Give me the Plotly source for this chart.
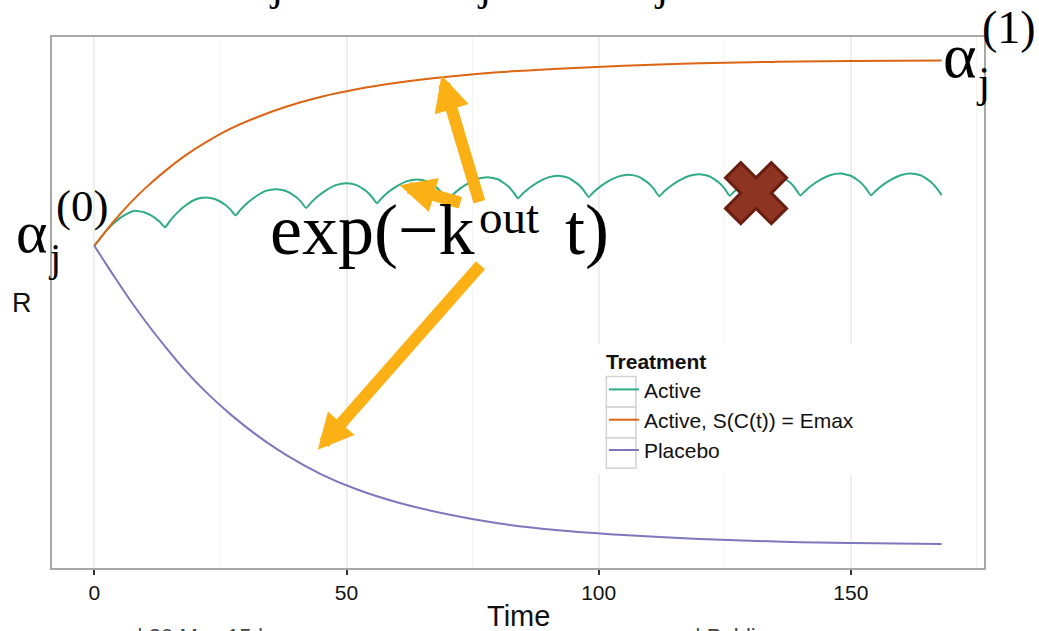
import plotly.graph_objects as go

# ---------------- data ----------------
time_active = [0, 1, 2.5, 4, 6, 8, 10, 12, 13,
               14, 15, 16.5, 18, 20, 22, 24, 26, 27,
               28, 29, 30.5, 32, 34, 36, 38, 40, 41,
               42, 43, 44.5, 46, 48, 50, 52, 54, 55,
               56, 57, 58.5, 60, 62, 64, 66, 68, 69,
               70, 71, 72.5, 74, 76, 78, 80, 82, 83,
               84, 85, 86.5, 88, 90, 92, 94, 96, 97,
               98, 99, 100.5, 102, 104, 106, 108, 110, 111,
               112, 113, 114.5, 116, 118, 120, 122, 124, 125,
               126, 127, 128.5, 130, 132, 134, 136, 138, 139,
               140, 141, 142.5, 144, 146, 148, 150, 152, 153,
               154, 155, 156.5, 158, 160, 162, 164, 166, 167,
               168]
r_active = [3.543, 3.608, 3.700, 3.775, 3.850, 3.893, 3.876, 3.823, 3.780,
            3.727, 3.793, 3.877, 3.943, 4.006, 4.027, 4.009, 3.951, 3.905,
            3.847, 3.905, 3.978, 4.036, 4.092, 4.110, 4.091, 4.031, 3.982,
            3.922, 3.977, 4.046, 4.101, 4.153, 4.170, 4.150, 4.086, 4.034,
            3.970, 4.022, 4.088, 4.141, 4.190, 4.207, 4.186, 4.120, 4.066,
            4.000, 4.051, 4.115, 4.166, 4.214, 4.230, 4.209, 4.141, 4.086,
            4.019, 4.068, 4.131, 4.181, 4.228, 4.244, 4.223, 4.155, 4.099,
            4.031, 4.080, 4.142, 4.192, 4.238, 4.254, 4.232, 4.164, 4.108,
            4.039, 4.088, 4.149, 4.198, 4.244, 4.260, 4.238, 4.169, 4.113,
            4.044, 4.092, 4.154, 4.202, 4.249, 4.264, 4.242, 4.173, 4.116,
            4.047, 4.095, 4.156, 4.205, 4.251, 4.266, 4.244, 4.175, 4.118,
            4.049, 4.097, 4.158, 4.206, 4.252, 4.267, 4.245, 4.176, 4.119,
            4.050]

time_smooth = [0, 2, 4, 7, 10, 14, 18, 22, 27, 32, 38, 45, 52, 60, 70, 80,
               92, 105, 120, 135, 150, 168]
r_emax = [3.543, 3.672, 3.796, 3.965, 4.115, 4.290, 4.445, 4.575, 4.715,
          4.825, 4.935, 5.035, 5.110, 5.175, 5.235, 5.280, 5.315, 5.345,
          5.370, 5.384, 5.392, 5.397]
r_placebo = [3.543, 3.385, 3.230, 3.005, 2.795, 2.535, 2.295, 2.085, 1.855,
             1.655, 1.450, 1.255, 1.105, 0.975, 0.855, 0.765, 0.695, 0.647,
             0.608, 0.582, 0.567, 0.557]

cross_time = [131.2]
cross_r = [4.07]

x_ticks = [0, 50, 100, 150]
x_range = [-8.4, 176.4]
y_range = [0.317, 5.633]

series_names = ["Active", "Active, S(C(t)) = Emax", "Placebo"]
series_colors = ["#2FAC86", "#DC6514", "#7D77BC"]

# ---------------- layout helpers (pixel -> paper) ----------------
W_FIG, H_FIG = 1039, 631
L, R_, T, B = 52.3, 984.0, 36.7, 568.3
PW, PH = R_ - L, B - T


def pxx(x):
    return (x - L) / PW


def pxy(y):
    return (B - y) / PH


SANS = "Liberation Sans, Arial, sans-serif"
SERIF = "Liberation Serif, Times New Roman, serif"

fig = go.Figure()
fig.add_trace(go.Scatter(x=time_active, y=r_active, mode="lines", name=series_names[0],
                         line=dict(color=series_colors[0], width=2, shape="spline", smoothing=0.5)))
fig.add_trace(go.Scatter(x=time_smooth, y=r_emax, mode="lines", name=series_names[1],
                         line=dict(color=series_colors[1], width=2, shape="spline")))
fig.add_trace(go.Scatter(x=time_smooth, y=r_placebo, mode="lines", name=series_names[2],
                         line=dict(color=series_colors[2], width=2, shape="spline")))
fig.add_trace(go.Scatter(x=cross_time, y=cross_r, mode="markers", showlegend=False,
                         marker=dict(symbol="x", size=54, color="#8E3422",
                                     line=dict(color="#6A1E12", width=3))))

ann = []
# arrows (tip, tail in pixels)
arrows = [((441.7, 75), (480, 203)), ((400, 185), (462, 203)), ((318, 450), (482, 264))]
for (tx, ty), (sx, sy) in arrows:
    ann.append(dict(x=pxx(tx), y=pxy(ty), xref="paper", yref="paper", text="",
                    showarrow=True, arrowhead=2, arrowsize=0.59, arrowwidth=12,
                    arrowcolor="#FBB016", ax=sx - tx, ay=sy - ty, standoff=0))


def txt(s, x, y, size, family=SERIF, xanchor="center", color="#000000", yanchor="middle"):
    ann.append(dict(x=pxx(x), y=pxy(y), xref="paper", yref="paper", text=s, showarrow=False,
                    xanchor=xanchor, yanchor=yanchor, font=dict(family=family, size=size, color=color)))


# alpha_j^(0)
txt("α", 32, 232, 60)
txt("j", 55, 257, 40)
txt("(0)", 82.5, 206, 45)
# alpha_j^(1)
txt("α", 960, 55, 64)
txt("j", 983, 82, 44)
txt("(1)", 1009, 27, 46)
# exp(-k^out t)
txt("exp(−k", 268, 230, 72, xanchor="left")
txt("out", 477, 217, 47, xanchor="left")
txt("t)", 563, 230, 72, xanchor="left")
# cut-off descenders of a line of text above the figure
for jx in (276, 484, 661):
    txt("j", jx, 12, 44, yanchor="bottom")
# cut-off footer line below the figure
txt("| 20 May 15 |", 135, 622, 22, family=SANS, xanchor="left", color="#444444", yanchor="top")
txt("| Public", 693, 622, 22, family=SANS, xanchor="left", color="#444444", yanchor="top")
# axis titles
txt("R", 22.5, 303.5, 27, family=SANS, color="#111111")
txt("Time", 519, 616, 29, family=SANS, color="#111111")

# legend background and key boxes (ggplot style)
shapes = [dict(type="rect", xref="paper", yref="paper", layer="above",
               x0=pxx(594), x1=pxx(905), y0=pxy(474), y1=pxy(344),
               fillcolor="white", line=dict(width=0))]
for top, bot in ((376.5, 407), (407, 438), (438, 468.5)):
    shapes.append(dict(type="rect", xref="paper", yref="paper", layer="above",
                       x0=pxx(606.5), x1=pxx(636), y0=pxy(bot), y1=pxy(top),
                       fillcolor="rgba(0,0,0,0)", line=dict(color="#D3D3D3", width=1.5)))

fig.update_layout(
    width=W_FIG, height=H_FIG, autosize=False,
    margin=dict(l=L, r=W_FIG - R_, t=T, b=H_FIG - B, pad=0),
    paper_bgcolor="white", plot_bgcolor="white",
    showlegend=True,
    legend=dict(title=dict(text="<b>Treatment</b>", font=dict(family=SANS, size=21, color="#111")),
                font=dict(family=SANS, size=21, color="#111"),
                x=pxx(604), y=pxy(342), xanchor="left", yanchor="top",
                bgcolor="rgba(0,0,0,0)", borderwidth=0, tracegroupgap=0),
    annotations=ann,
    shapes=shapes,
    xaxis=dict(range=x_range, tickvals=x_ticks, ticktext=[str(v) for v in x_ticks],
               showgrid=True, gridcolor="#EEEEEE", gridwidth=1.5,
               minor=dict(dtick=25, tick0=0, showgrid=True, gridcolor="#F4F4F4", gridwidth=1.2),
               zeroline=False, showline=True, linecolor="#A8A8A8", linewidth=2, mirror=True,
               ticks="outside", ticklen=5, tickwidth=1.5, tickcolor="#333333",
               tickfont=dict(family=SANS, size=21, color="#111111")),
    yaxis=dict(range=y_range, showgrid=False, zeroline=False, showticklabels=False,
               showline=True, linecolor="#A8A8A8", linewidth=2, mirror=True, ticks=""),
)

fig.write_html("out.html", config={"displayModeBar": False},
               post_script="document.body.style.margin='0';document.body.style.padding='0';"
                           "document.documentElement.style.overflow='hidden';")
